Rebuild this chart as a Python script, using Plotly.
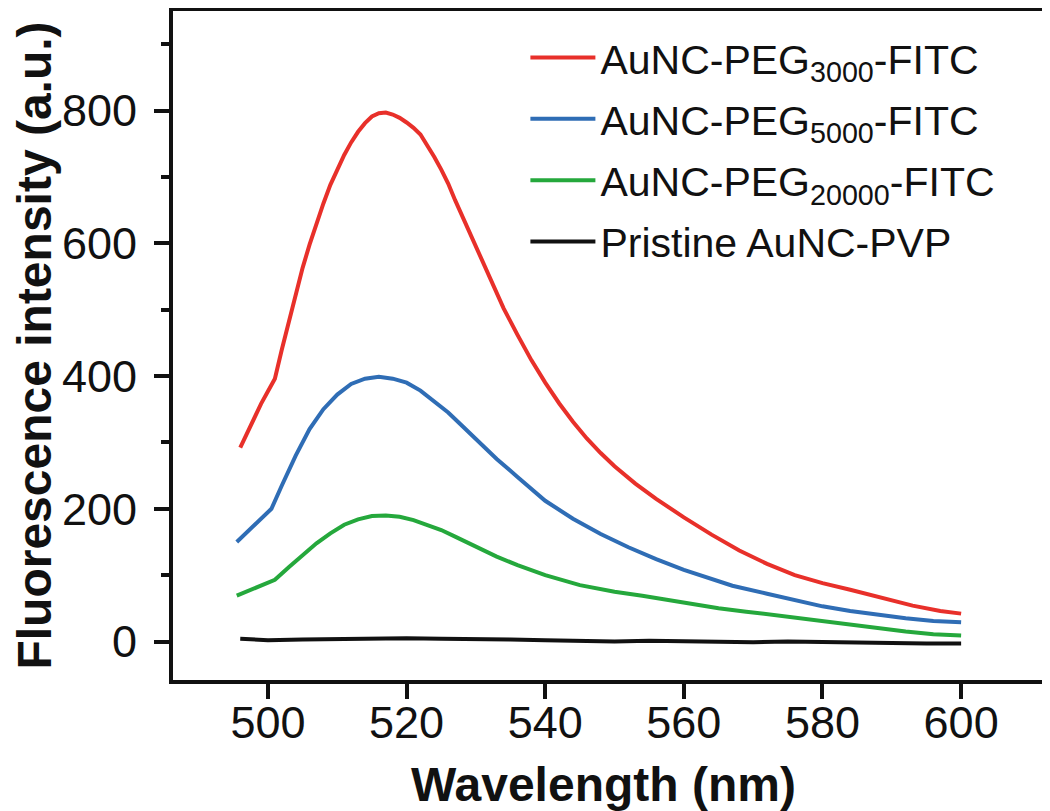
import plotly.graph_objects as go

# ---- data ----
red_x = [496, 497, 498, 499, 500, 501, 502, 503, 504, 505, 506, 507, 508, 509, 510, 511, 512, 513, 514, 515,
         516, 517, 518, 519, 520, 521, 522, 523, 524, 525, 526, 527, 528, 530, 532, 534, 536, 538, 540, 542,
         544, 546, 548, 550, 553, 556, 560, 564, 568, 572, 576, 580, 584, 588, 593, 597, 600]
red_y = [292, 315, 338, 358, 377, 396, 440, 483, 525, 563, 598, 630, 660, 688, 712, 733, 752, 768, 781, 791,
         796, 797, 794, 789, 782, 774, 764, 748, 730, 711, 690, 665, 642, 594, 547, 502, 462, 424, 390, 359,
         331, 306, 284, 264, 238, 215, 187, 161, 137, 117, 100, 88, 78, 67, 54, 46, 42]

blue_x = [495.5, 497, 499, 500.5, 502, 504, 506, 508, 510, 512, 514, 516, 518, 520, 522, 524, 526, 528, 530,
          533, 536, 540, 544, 548, 552, 556, 560, 564, 567, 572, 576, 580, 584, 588, 592, 596, 600]
blue_y = [150, 165, 185, 200, 235, 280, 320, 350, 372, 388, 396, 399, 396, 390, 378, 362, 345, 325, 305,
          275, 248, 212, 185, 162, 142, 124, 108, 94, 84, 72, 62, 53, 46, 40, 35, 31, 29]

green_x = [495.5, 497, 499, 501, 503, 505, 507, 509, 511, 513, 515, 517, 519, 521, 523, 525, 527, 530, 533,
           536, 540, 545, 550, 554, 560, 565, 569, 575, 580, 583, 588, 592, 596, 600]
green_y = [69, 76, 85, 93, 112, 130, 148, 163, 176, 184, 189, 190, 188, 183, 176, 168, 158, 143, 128,
           115, 100, 85, 75, 69, 58, 50, 45, 37, 30, 27, 20, 15, 11, 9]

black_x = [496, 500, 505, 510, 515, 520, 525, 530, 535, 540, 545, 550, 555, 560, 565, 570, 575, 580, 585,
           590, 595, 600]
black_y = [4, 2, 3, 4, 5, 5, 4, 4, 3, 2, 1, 0, 1, 0, -1, -1, 0, -1, -2, -3, -3, -3]

names = ["AuNC-PEG<sub>3000</sub>-FITC", "AuNC-PEG<sub>5000</sub>-FITC",
         "AuNC-PEG<sub>20000</sub>-FITC", "Pristine AuNC-PVP"]
colors = ["#e8302a", "#2f6db5", "#25a83c", "#111111"]

x_major = [500, 520, 540, 560, 580, 600]
x_minor = [510, 530, 550, 570, 590]
y_major = [0, 200, 400, 600, 800]
y_minor = [100, 300, 500, 700, 900]

x_title = "<b>Wavelength (nm)</b>"
y_title = "<b>Fluorescence intensity (a.u.)</b>"

X_RANGE = [486.3, 613.4]
Y_RANGE = [-58, 950]

series = [(red_x, red_y), (blue_x, blue_y), (green_x, green_y), (black_x, black_y)]

fig = go.Figure()
for i, ((xs, ys), nm, col) in enumerate(zip(series, names, colors)):
    fig.add_trace(go.Scatter(x=xs, y=ys, mode="lines", name=nm, legendgroup=str(i),
                             line=dict(color=col, width=4)))

tick_font = dict(family="Liberation Sans, Arial", size=45, color="#111")
title_font = dict(family="Liberation Sans, Arial", size=48, color="#111")
INK = "#111"

fig.update_layout(
    template="none",
    width=1050, height=811,
    margin=dict(l=165, r=4, t=3, b=139, autoexpand=False),
    paper_bgcolor="white", plot_bgcolor="white",
    showlegend=True,
    legend=dict(x=0.400, y=0.98, xanchor="left", yanchor="top", bgcolor="rgba(0,0,0,0)",
                font=dict(family="Liberation Sans, Arial", size=41, color=INK),
                tracegroupgap=5, itemwidth=65),
    xaxis=dict(
        range=X_RANGE, showgrid=False, zeroline=False, automargin=False,
        showline=True, linecolor=INK, linewidth=4, mirror=True,
        ticks="outside", ticklen=15, tickwidth=4, tickcolor=INK,
        tickmode="array", tickvals=x_major, tickfont=tick_font, ticklabelstandoff=-15,
    ),
    xaxis2=dict(
        range=X_RANGE, overlaying="x", anchor="y", side="bottom", showgrid=False, zeroline=False,
        automargin=False, showline=False, showticklabels=False,
        ticks="outside", ticklen=9, tickwidth=4, tickcolor=INK,
        tickmode="array", tickvals=x_minor,
    ),
    yaxis=dict(
        range=Y_RANGE, showgrid=False, zeroline=False, automargin=False,
        showline=True, linecolor=INK, linewidth=4, mirror=True,
        ticks="outside", ticklen=15, tickwidth=4, tickcolor=INK,
        tickmode="array", tickvals=y_major, tickfont=tick_font, ticklabelstandoff=8,
        minor=dict(tick0=y_minor[0], dtick=y_minor[1] - y_minor[0], ticks="outside",
                   ticklen=8, tickwidth=4, tickcolor=INK, showgrid=False),
        title=dict(text=y_title, font=title_font, standoff=2),
    ),
    annotations=[dict(text=x_title, xref="paper", yref="paper", x=0.489, y=-0.1555,
                      xanchor="center", yanchor="middle", showarrow=False, font=title_font)],
)

fig.write_html("out.html")
